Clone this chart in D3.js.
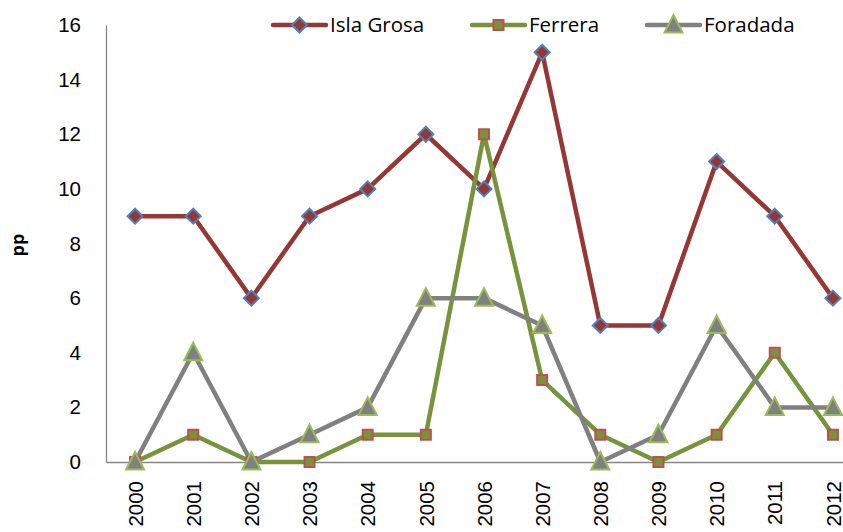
<!DOCTYPE html>
<html><head><meta charset="utf-8">
<script src="https://cdn.jsdelivr.net/npm/d3@7"></script>
<style>
body{margin:0;background:#fff;}
svg{display:block;font-family:"Open Sans",sans-serif;}
</style></head>
<body><svg id="c" width="843" height="532"></svg>
<script>
const years = ["2000","2001","2002","2003","2004","2005","2006","2007","2008","2009","2010","2011","2012"];
const islaGrosa = [9,9,6,9,10,12,10,15,5,5,11,9,6];
const ferrera = [0,1,0,0,1,1,12,3,1,0,1,4,1];
const foradada = [0,4,0,1,2,6,6,5,0,1,5,2,2];
const yTicks = [0,2,4,6,8,10,12,14,16];
const seriesNames = ["Isla Grosa","Ferrera","Foradada"];

const series = [
  {name:seriesNames[0], values:islaGrosa, line:"#953735", fill:"#953735", stroke:"#4f81bd", shape:"diamond"},
  {name:seriesNames[1], values:ferrera, line:"#77933c", fill:"#77933c", stroke:"#c0504d", shape:"square"},
  {name:seriesNames[2], values:foradada, line:"#808080", fill:"#808080", stroke:"#9bbb59", shape:"triangle"}
];

const svg = d3.select("#c");
const x0 = 106, x1 = 862, yTop = 25, yBot = 462;
const x = d3.scalePoint().domain(years).range([x0, x1]).padding(0.5);
const y = d3.scaleLinear().domain([0,16]).range([yBot, yTop]);

const yAxis = svg.append("g").attr("transform",`translate(${x0},0)`)
  .call(d3.axisLeft(y).tickValues(yTicks).tickSize(0).tickPadding(25));
yAxis.select(".domain").attr("stroke","#868686").attr("stroke-width",1.3);
yAxis.selectAll("text").attr("font-size",20.5).attr("fill","#000");

const xAxis = svg.append("g").attr("transform",`translate(0,${yBot})`)
  .call(d3.axisBottom(x).tickSize(0).tickPadding(0));
xAxis.select(".domain").attr("stroke","#868686").attr("stroke-width",1.3);
xAxis.selectAll("text").attr("font-size",20.5).attr("fill","#000")
  .attr("text-anchor","end").attr("dy","0.35em")
  .attr("transform","rotate(-90) translate(-19,0)")
  .attr("x",0).attr("y",0);

svg.append("text").attr("transform","translate(24,245) rotate(-90)")
  .attr("text-anchor","middle").attr("font-size",18).attr("font-weight","bold").text("pp");

function markerPath(shape){
  if(shape==="diamond") return "M0,-7.5L7.5,0L0,7.5L-7.5,0Z";
  if(shape==="square") return "M-5,-5H5V5H-5Z";
  return "M0,-10L9,7.5H-9Z";
}

const line = d3.line().x((d,i)=>x(years[i])).y(d=>y(d));
series.forEach(s=>{
  svg.append("path").datum(s.values).attr("d",line)
    .attr("fill","none").attr("stroke",s.line).attr("stroke-width",4.5).attr("stroke-linejoin","round");
});
series.forEach(s=>{
  svg.append("g").selectAll("path").data(s.values).join("path")
    .attr("transform",(d,i)=>`translate(${x(years[i])},${y(d)})`)
    .attr("d",markerPath(s.shape))
    .attr("fill",s.fill).attr("stroke",s.stroke).attr("stroke-width",2);
});

const legX = [273, 472, 647];
series.forEach((s,i)=>{
  const g = svg.append("g").attr("transform",`translate(${legX[i]},25)`);
  g.append("line").attr("x1",0).attr("x2",53).attr("y1",0).attr("y2",0)
    .attr("stroke",s.line).attr("stroke-width",4.5).attr("stroke-linecap","round");
  g.append("path").attr("transform","translate(26.5,0)").attr("d",markerPath(s.shape))
    .attr("fill",s.fill).attr("stroke",s.stroke).attr("stroke-width",2);
  g.append("text").attr("x",57).attr("y",0).attr("dy","0.35em").attr("font-size",20.5).text(s.name);
});
</script></body></html>
